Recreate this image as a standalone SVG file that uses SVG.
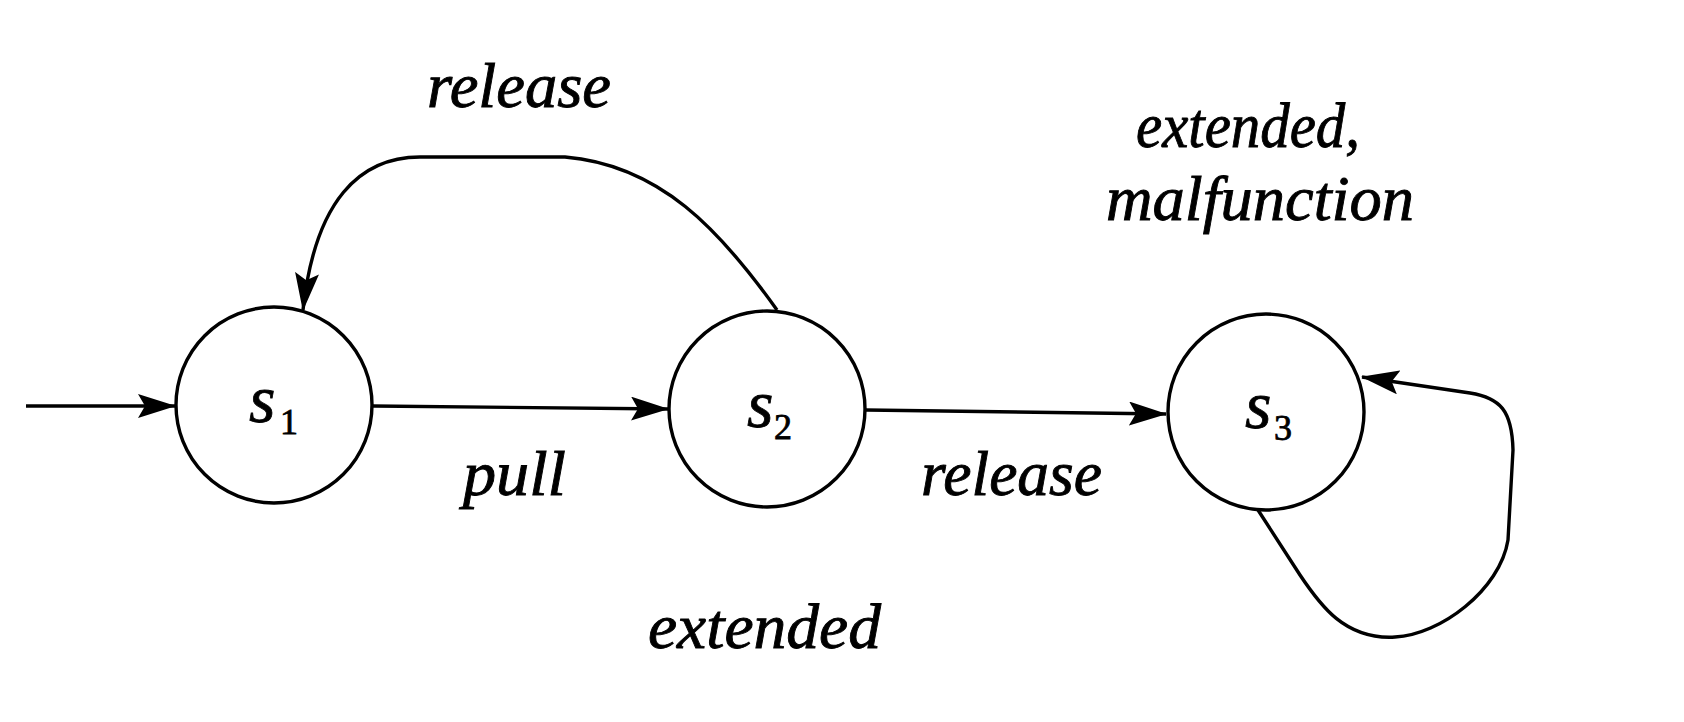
<svg xmlns="http://www.w3.org/2000/svg" width="1684" height="722" viewBox="0 0 1684 722">
<style>
.bg{fill:#fff}
.state{fill:#fff;stroke:#000;stroke-width:3.4}
.edge{fill:none;stroke:#000;stroke-width:3.4;marker-end:url(#arr)}
.lbl{font-family:"Liberation Serif","Times New Roman",serif;font-style:italic;font-size:64px;fill:#000;stroke:#000;stroke-width:0.9}
.sname{font-family:"Liberation Serif","Times New Roman",serif;font-style:italic;font-size:68px;fill:#000;stroke:#000;stroke-width:0.8}
.sub{font-style:normal;font-size:36px}
</style>
<defs>
<marker id="arr" markerUnits="userSpaceOnUse" viewBox="0 0 38 24" refX="37" refY="12" markerWidth="38" markerHeight="24" orient="auto">
<path d="M0,0 L38,12 L0,24 L7,12 Z" fill="#000"/>
</marker>
</defs>
<rect class="bg" x="0" y="0" width="1684" height="722"/>
<g id="connectors">
<path id="e-init" class="edge" d="M26,406 L175,406"/>
<path id="e-s1-s2" class="edge" d="M373,406 L668,409"/>
<path id="e-s2-s3" class="edge" d="M866,410 L1166,414"/>
<path id="e-s2-s1" class="edge" d="M777,310 C720,230 660,165 565,157 L420,157 C360,157 315,200 303,310"/>
<path id="e-s3-s3" class="edge" d="M1258,510 L1300,575 C1320,605 1345,640 1395,637 C1440,635 1500,590 1508,540 L1513,450 C1512,410 1500,398 1470,393 L1362,377"/>
</g>
<g id="s1">
<circle class="state" cx="274" cy="405" r="98"/>
<text class="sname" x="249" y="422">s<tspan class="sub" x="280" y="434">1</tspan></text>
</g>
<g id="s2">
<circle class="state" cx="767" cy="409" r="98"/>
<text class="sname" x="747" y="427">s<tspan class="sub" x="774" y="439">2</tspan></text>
</g>
<g id="s3">
<circle class="state" cx="1266" cy="412" r="98"/>
<text class="sname" x="1245" y="428">s<tspan class="sub" x="1274" y="440">3</tspan></text>
</g>
<g id="labels">
<text class="lbl" x="427" y="107" textLength="184" lengthAdjust="spacingAndGlyphs">release</text>
<text class="lbl" x="1136" y="147" textLength="224" lengthAdjust="spacingAndGlyphs">extended,</text>
<text class="lbl" x="1106" y="220" textLength="308" lengthAdjust="spacingAndGlyphs">malfunction</text>
<text class="lbl" x="463" y="495" textLength="103" lengthAdjust="spacingAndGlyphs">pull</text>
<text class="lbl" x="921" y="495" textLength="181" lengthAdjust="spacingAndGlyphs">release</text>
<text class="lbl" x="648" y="648" textLength="233" lengthAdjust="spacingAndGlyphs">extended</text>
</g>
</svg>
